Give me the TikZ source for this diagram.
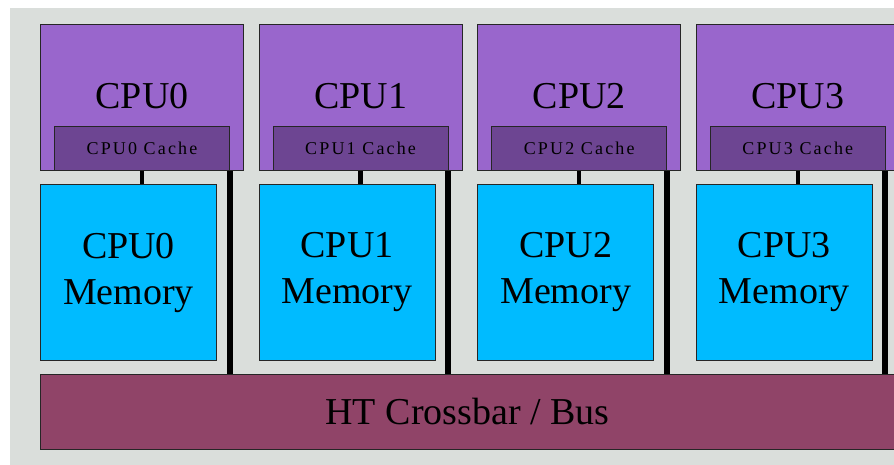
\documentclass[tikz,border=0pt]{standalone}
\usepackage{fontspec}
\setmainfont{Liberation Serif}
\usetikzlibrary{calc,positioning}

\definecolor{cpupurple}{RGB}{153,102,204}
\definecolor{cachepurple}{RGB}{109,69,146}
\definecolor{memblue}{RGB}{0,187,255}
\definecolor{busred}{RGB}{144,68,104}
\definecolor{bggray}{RGB}{218,222,219}

\begin{document}
\begin{tikzpicture}[x=1pt,y=-1pt,
    box/.style={draw=black!85,line width=1pt,anchor=north west,inner sep=0pt},
    cpubox/.style={box,fill=cpupurple,minimum width=203pt,minimum height=146pt},
    cachebox/.style={box,fill=cachepurple,minimum width=175pt,minimum height=44pt,
      font=\fontsize{18}{21}\selectfont\addfontfeatures{LetterSpace=12}},
    membox/.style={box,fill=memblue,minimum width=176pt,minimum height=176pt,
      align=center,font=\fontsize{38}{46}\selectfont},
    bigtext/.style={font=\fontsize{38}{46}\selectfont,inner sep=0pt},
    link/.style={black,line width=4.5pt},
    buslink/.style={black,line width=6pt}]
  \useasboundingbox (0,0) rectangle (894,465);
  \fill[bggray] (10,8) rectangle (900,470);
  % the crossbar
  \node[box,fill=busred,minimum width=860pt,minimum height=75pt,bigtext] (bus) at (40,374) {};
  \node[bigtext] (buslabel) at ($(bus.west)!0.5!(895,411.5)$) {HT Crossbar / Bus};
  \foreach \i in {0,...,3} {
    \node[cpubox] (cpu\i) at (40+218.6*\i,24) {};
    \node[bigtext] (cpulabel\i) at ([yshift=-72.5pt]cpu\i.north) {CPU\i};
    \node[cachebox] (cache\i) at (54+218.6*\i,126) {CPU\i\ Cache};
    \node[membox] (mem\i) at (40+218.6*\i,184) {CPU\i\\Memory};
    \draw[link] (cache\i.south) -- (cache\i.south |- mem\i.north);
    \draw[buslink] ([xshift=-0.5pt]cache\i.south east) -- ([xshift=-0.5pt]cache\i.south east |- bus.north);
  }
\end{tikzpicture}
\end{document}
